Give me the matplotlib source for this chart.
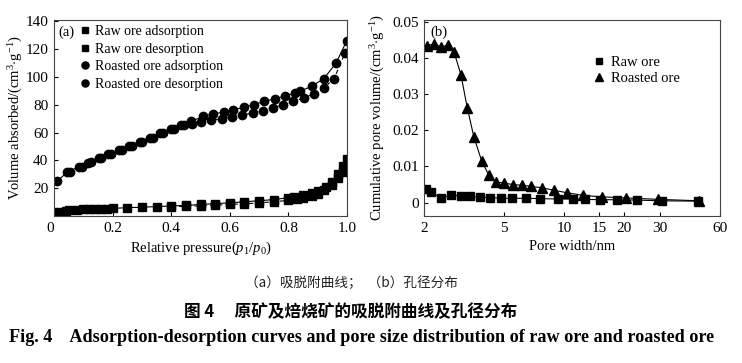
import numpy as np
import matplotlib
matplotlib.use("Agg")
import matplotlib.pyplot as plt
from matplotlib.ticker import FixedLocator, FixedFormatter, NullLocator

plt.rcParams["font.family"] = ["Liberation Serif", "Noto Sans CJK SC"]
plt.rcParams["mathtext.fontset"] = "custom"
plt.rcParams["mathtext.rm"] = "Liberation Serif"
plt.rcParams["mathtext.it"] = "Liberation Serif:italic"
plt.rcParams["font.size"] = 10

# (a) adsorption-desorption isotherms
raw_ads_x = [0.01, 0.04, 0.05, 0.08, 0.10, 0.12, 0.14, 0.16, 0.18, 0.20, 0.25, 0.30, 0.35, 0.40,
             0.45, 0.50, 0.55, 0.60, 0.65, 0.70, 0.75, 0.80, 0.82, 0.85, 0.88, 0.90, 0.93, 0.95,
             0.97, 0.985, 1.0]
raw_ads_y = [3.0, 3.8, 4.0, 4.4, 4.7, 4.9, 5.0, 5.2, 5.3, 5.5, 6.0, 6.3, 6.8, 7.2,
             7.6, 8.3, 8.9, 9.5, 10.2, 11.0, 11.8, 13.2, 14.0, 15.0, 16.5, 18.0, 21.0, 24.5,
             30.5, 36.0, 41.0]
raw_des_x = [0.40, 0.45, 0.50, 0.55, 0.60, 0.65, 0.70, 0.75, 0.80, 0.83, 0.85, 0.88, 0.90,
             0.92, 0.95, 0.97, 0.985]
raw_des_y = [6.8, 7.0, 7.3, 7.8, 8.3, 8.8, 9.4, 10.3, 11.2, 12.2, 13.3, 14.5, 16.0,
             18.5, 22.0, 27.5, 32.0]

roast_ads_x = [0.01, 0.045, 0.085, 0.115, 0.152, 0.186, 0.222, 0.257, 0.292, 0.328, 0.363,
               0.398, 0.432, 0.469, 0.509, 0.543, 0.579, 0.611, 0.648, 0.683, 0.717, 0.754,
               0.788, 0.822, 0.839, 0.879, 0.921, 0.962, 0.999]
roast_ads_y = [24.9, 31.5, 35.4, 38.3, 41.5, 44.6, 47.3, 50.4, 53.3, 56.2, 59.4,
               62.5, 65.7, 68.1, 71.8, 73.5, 74.7, 76.4, 78.3, 80.2, 82.4, 84.4,
               86.3, 88.7, 89.7, 93.3, 98.9, 109.8, 126.0]
roast_des_x = [0.055, 0.095, 0.125, 0.162, 0.196, 0.232, 0.267, 0.302, 0.338, 0.373, 0.408,
               0.442, 0.47, 0.5, 0.536, 0.572, 0.607, 0.642, 0.678, 0.713, 0.748, 0.782,
               0.816, 0.853, 0.888, 0.921, 0.956, 0.993]
roast_des_y = [31.8, 35.6, 38.5, 41.7, 44.8, 47.5, 50.6, 53.5, 56.4, 59.6, 62.7,
               65.5, 66.5, 67.6, 68.9, 69.8, 71.5, 72.5, 74.2, 75.9, 77.8, 80.0,
               82.4, 84.9, 88.0, 92.1, 98.9, 117.0]

# (b) cumulative pore volume vs pore width
pore_raw_x = [2.04, 2.17, 2.41, 2.71, 3.04, 3.38, 3.80, 4.26, 4.83, 5.46, 6.44, 7.6, 9.28,
              11.1, 12.7, 15.1, 18.3, 23.0, 30.7, 46.7]
pore_raw_y = [0.0037, 0.0029, 0.0013, 0.0020, 0.0019, 0.0017, 0.0015, 0.0014, 0.0012, 0.0012,
              0.0012, 0.0011, 0.0010, 0.0010, 0.0009, 0.0008, 0.0008, 0.0007, 0.0005, 0.0004]
pore_roast_x = [2.06, 2.24, 2.42, 2.64, 2.82, 3.05, 3.28, 3.54, 3.87, 4.21, 4.56, 5.0, 5.53,
                6.13, 6.82, 7.72, 8.92, 10.36, 12.45, 15.38, 20.27, 29.5, 47.3]
pore_roast_y = [0.0433, 0.0439, 0.0430, 0.0435, 0.0415, 0.0353, 0.0261, 0.0181, 0.0115,
                0.0075, 0.0057, 0.0054, 0.0050, 0.0048, 0.0045, 0.0041, 0.0034, 0.0027,
                0.0020, 0.0016, 0.0013, 0.0009, 0.0005]

iso_labels = ["Raw ore adsorption", "Raw ore desorption",
              "Roasted ore adsorption", "Roasted ore desorption"]
pore_labels = ["Raw ore", "Roasted ore"]
a_xticks = [0, 0.2, 0.4, 0.6, 0.8, 1.0]
a_yticks = [20, 40, 60, 80, 100, 120, 140]
b_xticks = [2, 5, 10, 15, 20, 30, 60]
b_yticks = [0, 0.01, 0.02, 0.03, 0.04, 0.05]

caption_sub = "（a）吸脱附曲线；  （b）孔径分布"
caption_cn = "图 4　 原矿及焙烧矿的吸脱附曲线及孔径分布"
caption_en = "Fig. 4    Adsorption-desorption curves and pore size distribution of raw ore and roasted ore"

fig = plt.figure(figsize=(7.42, 3.63), dpi=100)
W, H = 742, 363
ax1 = fig.add_axes([54 / W, 1 - 216 / H, 293 / W, 196.5 / H])
ax2 = fig.add_axes([424.3 / W, 1 - 216 / H, 295.7 / W, 196.5 / H])

lw = 0.8
dash = (0, (4, 3))
ax1.plot(raw_ads_x, raw_ads_y, color="black", lw=lw, ls="-")
ax1.plot(raw_des_x, raw_des_y, color="black", lw=lw, ls=dash)
ax1.plot(roast_ads_x, roast_ads_y, color="black", lw=lw, ls="-")
ax1.plot(roast_des_x, roast_des_y, color="black", lw=lw, ls=dash)
h1, = ax1.plot(raw_ads_x, raw_ads_y, "s", color="black", ms=5.5)
h2, = ax1.plot(raw_des_x, raw_des_y, "s", color="black", ms=5.5)
h3, = ax1.plot(roast_ads_x, roast_ads_y, "o", color="black", ms=6)
h4, = ax1.plot(roast_des_x, roast_des_y, "o", color="black", ms=6)
ax1.legend([h1, h2, h3, h4], iso_labels, loc="upper left", bbox_to_anchor=(0.082, 0.972),
           frameon=False, borderpad=0, borderaxespad=0, handlelength=1.0,
           handletextpad=0.25, labelspacing=0.33, fontsize=10, markerscale=0.85)
ax1.text(0.014, 0.935, "(a)", transform=ax1.transAxes, ha="left", va="center", fontsize=10.5)
ax1.set_xlim(0, 1.0)
ax1.set_ylim(0, 141.4)
ax1.xaxis.set_major_locator(FixedLocator(a_xticks))
ax1.xaxis.set_major_formatter(FixedFormatter(["0", "0.2", "0.4", "0.6", "0.8", "1.0"]))
ax1.yaxis.set_major_locator(FixedLocator(a_yticks))
ax1.set_xlabel(r"Relative pressure($p_1$/$p_0$)", fontsize=10.5)
ax1.set_ylabel(r"Volume absorbed/(cm$^{3}$$\cdot$g$^{-1}$)", fontsize=10.5)
ax1.xaxis.set_label_coords(0.5, -0.12)
ax1.yaxis.set_label_coords(-0.1, 0.5)
ax1.get_xticklabels()[0].set_ha("right")

ax2.plot(pore_raw_x, pore_raw_y, "-", color="black", lw=lw)
ax2.plot(pore_roast_x, pore_roast_y, "-", color="black", lw=lw)
g1, = ax2.plot(pore_raw_x, pore_raw_y, "s", color="black", ms=5.5)
g2, = ax2.plot(pore_roast_x, pore_roast_y, "^", color="black", ms=6.5)
ax2.set_xscale("log")
ax2.set_xlim(2, 60)
ax2.set_ylim(-0.0037, 0.0506)
ax2.xaxis.set_major_locator(FixedLocator(b_xticks))
ax2.xaxis.set_major_formatter(FixedFormatter([str(v) for v in b_xticks]))
ax2.xaxis.set_minor_locator(NullLocator())
ax2.yaxis.set_major_locator(FixedLocator(b_yticks))
ax2.yaxis.set_major_formatter(FixedFormatter(["0", "0.01", "0.02", "0.03", "0.04", "0.05"]))
ax2.legend([g1, g2], pore_labels, loc="upper left", bbox_to_anchor=(0.567, 0.815),
           frameon=False, borderpad=0, borderaxespad=0, handlelength=1.0,
           handletextpad=0.3, labelspacing=0.22, fontsize=10.5, markerscale=0.85)
ax2.text(0.02, 0.935, "(b)", transform=ax2.transAxes, ha="left", va="center", fontsize=10.5)
ax2.set_xlabel("Pore width/nm", fontsize=10.5)
ax2.set_ylabel(r"Cumulative pore volume/(cm$^{3}$$\cdot$g$^{-1}$)", fontsize=10.5)
ax2.xaxis.set_label_coords(0.5, -0.12)
ax2.yaxis.set_label_coords(-0.126, 0.5)

for ax in (ax1, ax2):
    ax.tick_params(direction="in", length=3, width=0.8, labelsize=11, pad=4)
    for s in ax.spines.values():
        s.set_linewidth(0.8)
        s.set_color("#444444")

cjk = ["Noto Sans CJK SC", "DejaVu Sans"]
fig.text(351 / W, 1 - 283 / H, caption_sub, ha="center", va="center", fontsize=9.8,
         family=cjk, color="#222222")
fig.text(351 / W, 1 - 311.7 / H, caption_cn, ha="center", va="center", fontsize=12,
         family=cjk, weight="bold")
fig.text(362 / W, 1 - 338 / H, caption_en, ha="center", va="center", fontsize=13.1,
         family="Liberation Serif", weight="bold")

fig.savefig("out.png", dpi=100)
